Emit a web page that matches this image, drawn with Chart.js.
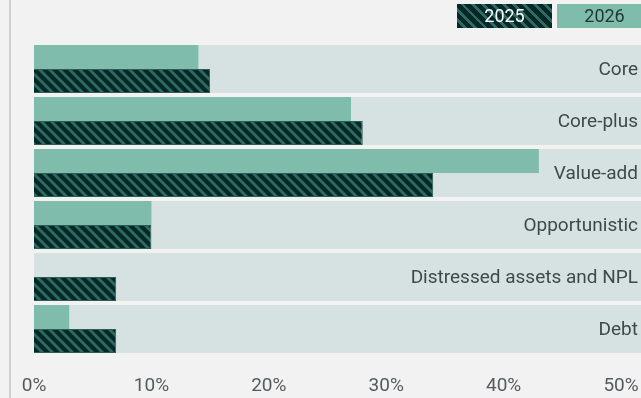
<!DOCTYPE html>
<html>
<head>
<meta charset="utf-8">
<script src="https://cdn.jsdelivr.net/npm/chart.js@4.4.1/dist/chart.umd.min.js"></script>
<style>
  html, body { margin: 0; padding: 0; background: #f2f2f2; overflow: hidden; }
  #wrap { position: relative; width: 641px; height: 398px; }
  #legend { position: absolute; top: 4px; left: 457px; height: 24px; display: flex; }
  .key { width: 95px; height: 24px; line-height: 24px; text-align: center;
         font-family: Roboto, sans-serif; font-size: 18px; margin-right: 5px; }
  .k2025 { color: #ffffff;
           background: repeating-linear-gradient(45deg, #04282a 0px, #04282a 4.5px, #2f6b5c 4.5px, #2f6b5c 7.3px); }
  .k2026 { color: #1d3636; background: #80bcab; }
</style>
</head>
<body>
<div id="wrap">
  <canvas id="chart" width="641" height="398"></canvas>
  <div id="legend">
    <div class="key k2025">2025</div>
    <div class="key k2026">2026</div>
  </div>
</div>
<script>
var categories = ['Core', 'Core-plus', 'Value-add', 'Opportunistic', 'Distressed assets and NPL', 'Debt'];
var values2026 = [14, 27, 43, 10, 0, 3];
var values2025 = [15, 28, 34, 10, 7, 7];
var tickValues = [0, 10, 20, 30, 40, 50];

// diagonal hatch for 2025 bars
function makeHatch() {
    var c = document.createElement('canvas');
    c.width = 10; c.height = 10;
    var g = c.getContext('2d');
    g.fillStyle = '#04282a';
    g.fillRect(0, 0, 10, 10);
    g.strokeStyle = '#2f6b5c';
    g.lineWidth = 2.9;
    g.beginPath();
    g.moveTo(-1, -1); g.lineTo(11, 11);
    g.moveTo(-1, 9); g.lineTo(1, 11);
    g.moveTo(9, -1); g.lineTo(11, 1);
    g.stroke();
    return g.createPattern(c, 'repeat');
}

var bandsPlugin = {
    id: 'bands',
    beforeDraw: function(chart) {
        var ctx = chart.ctx;
        ctx.save();
        ctx.fillStyle = '#f2f2f2';
        ctx.fillRect(0, 0, chart.width, chart.height);
        ctx.fillStyle = '#d0d0d0';
        ctx.fillRect(9, 0, 2, chart.height);
        ctx.restore();
    },
    beforeDatasetsDraw: function(chart) {
        var ctx = chart.ctx, x = chart.scales.x, y = chart.scales.y;
        var pitch = y.getPixelForValue(1) - y.getPixelForValue(0);
        var h = pitch * 0.92;
        ctx.save();
        ctx.fillStyle = '#d6e1e1';
        for (var i = 0; i < categories.length; i++) {
            var cy = y.getPixelForValue(i);
            ctx.fillRect(x.getPixelForValue(0), cy - h / 2, chart.width, h);
        }
        ctx.restore();
    },
    afterDatasetsDraw: function(chart) {
        var ctx = chart.ctx, y = chart.scales.y;
        ctx.save();
        ctx.font = '19px Roboto';
        ctx.fillStyle = '#3e4a4a';
        ctx.textAlign = 'right';
        ctx.textBaseline = 'middle';
        for (var i = 0; i < categories.length; i++) {
            ctx.fillText(categories[i], 638, y.getPixelForValue(i) + 1);
        }
        ctx.restore();
    }
};

new Chart(document.getElementById('chart'), {
    type: 'bar',
    data: {
        labels: categories,
        datasets: [
            {
                label: '2026',
                data: values2026,
                backgroundColor: '#80bcab',
                barPercentage: 1.0,
                categoryPercentage: 0.92
            },
            {
                label: '2025',
                data: values2025,
                backgroundColor: makeHatch(),
                borderColor: '#2b5f53',
                borderWidth: 1,
                barPercentage: 1.0,
                categoryPercentage: 0.92
            }
        ]
    },
    options: {
        indexAxis: 'y',
        responsive: false,
        animation: false,
        layout: { padding: { left: 34, right: 0, top: 43, bottom: 3 } },
        plugins: { legend: { display: false }, tooltip: { enabled: false } },
        scales: {
            x: {
                min: 0,
                max: 51.7,
                afterBuildTicks: function(scale) {
                    scale.ticks = tickValues.map(function(v) { return { value: v }; });
                },
                afterFit: function(scale) {
                    scale.height = 40;
                    scale.paddingLeft = 0;
                    scale.paddingRight = 0;
                },
                grid: { display: false, drawTicks: false },
                border: { display: false },
                ticks: {
                    padding: 20,
                    color: '#535c5c',
                    font: { family: 'Roboto', size: 19 },
                    callback: function(v) { return v + '%'; }
                }
            },
            y: {
                display: false
            }
        }
    },
    plugins: [bandsPlugin]
});
</script>
</body>
</html>
